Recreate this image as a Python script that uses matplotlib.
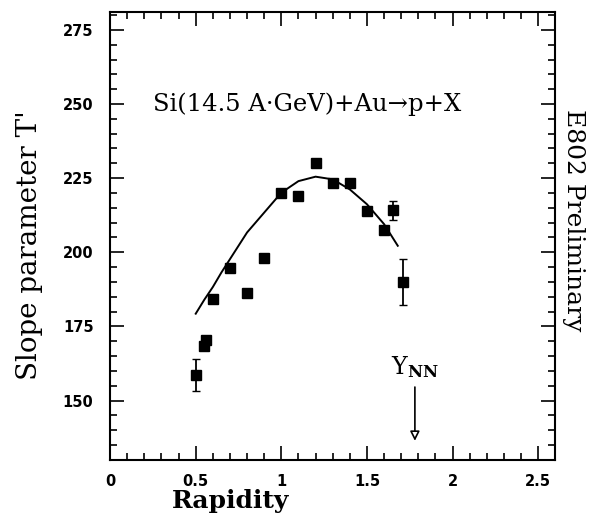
import numpy as np
import matplotlib.pyplot as plt
from matplotlib.ticker import MultipleLocator

# data
rap = [0.50, 0.55, 0.56, 0.60, 0.70, 0.80, 0.90, 1.00, 1.10, 1.20, 1.30, 1.40, 1.50, 1.60, 1.65, 1.71]
slope = [158.5, 168.5, 170.5, 184.3, 194.6, 186.3, 198.0, 219.9, 219.0, 230.0, 223.3, 223.5, 214.0, 207.6, 214.2, 190.0]
err = [5.4, 0, 0, 0, 0, 0, 0, 0, 0, 0, 0, 0, 0, 0, 3.2, 7.7]

fit_x = [0.50, 0.55, 0.60, 0.65, 0.70, 0.80, 0.90, 1.00, 1.10, 1.20, 1.30, 1.40, 1.50, 1.60, 1.68]
fit_y = [179.3, 184.0, 188.3, 193.2, 197.7, 206.7, 213.4, 220.1, 224.0, 225.5, 224.6, 221.2, 216.2, 209.5, 202.2]

plt.rcParams['font.family'] = 'DejaVu Serif'
plt.rcParams['mathtext.fontset'] = 'dejavuserif'

fig = plt.figure(figsize=(5.92, 5.25), dpi=100)
ax = fig.add_axes([0.186, 0.124, 0.752, 0.853])

ax.plot(fit_x, fit_y, '-k', lw=1.4)
ax.errorbar(rap, slope, yerr=err, fmt='s', color='k', ms=7, capsize=3, elinewidth=1.3)

ax.set_xlim(0, 2.6)
ax.set_ylim(130, 281)
ax.xaxis.set_major_locator(MultipleLocator(0.5))
ax.xaxis.set_minor_locator(MultipleLocator(0.1))
ax.yaxis.set_major_locator(MultipleLocator(25))
ax.yaxis.set_minor_locator(MultipleLocator(5))
ax.tick_params(which='both', direction='in', top=True, right=True, width=1.2)
ax.tick_params(which='major', length=10)
ax.tick_params(which='minor', length=5)
ax.tick_params(axis='x', pad=10)
ax.tick_params(axis='y', pad=12)
ax.set_xticks([0, 0.5, 1, 1.5, 2, 2.5])
ax.set_xticklabels(['0', '0.5', '1', '1.5', '2', '2.5'])
ax.set_yticks([150, 175, 200, 225, 250, 275])
for lab in ax.get_xticklabels() + ax.get_yticklabels():
    lab.set_family('DejaVu Sans')
    lab.set_fontweight('bold')
    lab.set_fontsize(10.5)
for s in ax.spines.values():
    s.set_linewidth(1.5)

ax.set_xlabel('Rapidity', fontsize=18, fontweight='bold')
ax.xaxis.set_label_coords(0.27, -0.065)
ax.set_ylabel("Slope parameter T'", fontsize=20)
ax.yaxis.set_label_coords(-0.15, 0.48)

ax.text(1.15, 250, 'Si(14.5 A\u00b7GeV)+Au\u2192p+X', fontsize=17.5, ha='center', va='center')
ax.text(1.64, 157, r'Y$_{\mathbf{NN}}$', fontsize=17, ha='left', va='bottom')
ax.annotate('', xy=(1.78, 135.5), xytext=(1.78, 155.5),
            arrowprops=dict(arrowstyle='-|>', color='k', fc='white', lw=1.2, mutation_scale=14))

fig.text(0.968, 0.58, 'E802 Preliminary', fontsize=18, rotation=-90, ha='center', va='center')

plt.savefig('out.png', dpi=100)
